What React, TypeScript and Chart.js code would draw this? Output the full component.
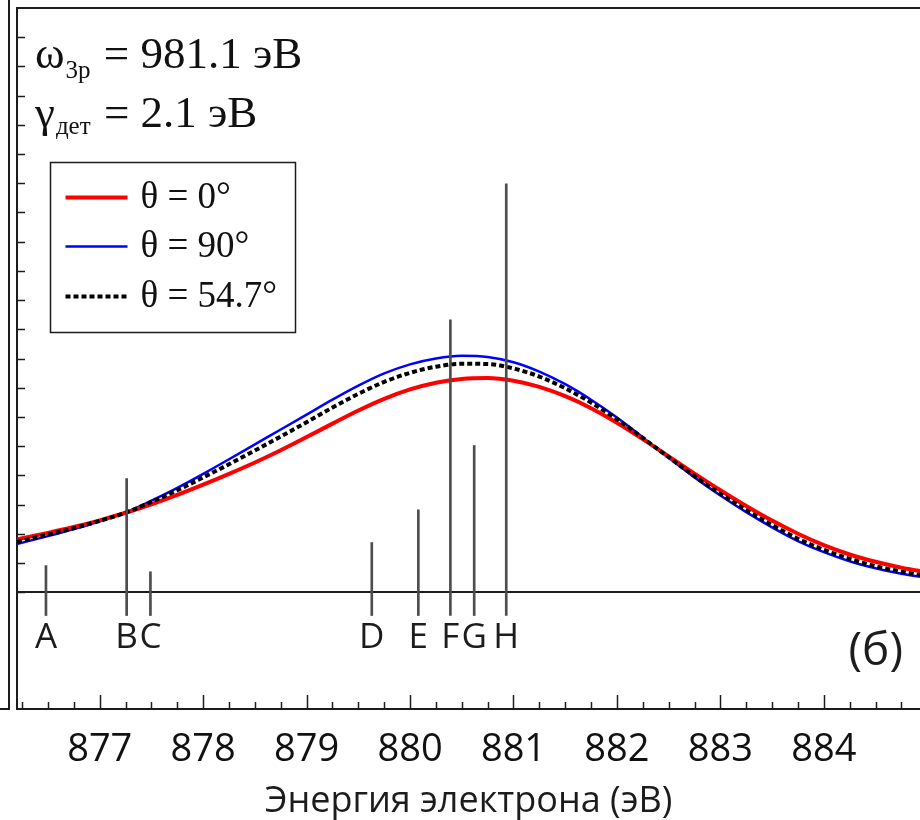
import React, { useEffect, useRef } from "react";
import { Chart, registerables } from "chart.js";

Chart.register(...registerables);

// Electron energy grid (эВ)
const energies = [
  876.2, 876.5, 876.75, 877, 877.25, 877.5, 877.75, 878, 878.25, 878.5, 878.75, 879,
  879.25, 879.5, 879.75, 880, 880.25, 880.5, 880.75, 881, 881.25, 881.5, 881.75, 882,
  882.25, 882.5, 882.75, 883, 883.25, 883.5, 883.75, 884, 884.25, 884.5, 884.75, 885,
];

// Broadened spectra for three emission angles
const intensityTheta0 = [
  0.181, 0.203, 0.223, 0.246, 0.272, 0.301, 0.333, 0.368, 0.405, 0.444, 0.486, 0.531,
  0.577, 0.622, 0.662, 0.694, 0.717, 0.73, 0.733, 0.724, 0.703, 0.671, 0.63, 0.58,
  0.524, 0.465, 0.406, 0.349, 0.295, 0.245, 0.2, 0.161, 0.129, 0.104, 0.084, 0.068,
];
const intensityTheta90 = [
  0.165, 0.192, 0.216, 0.243, 0.273, 0.313, 0.357, 0.405, 0.455, 0.506, 0.557, 0.608,
  0.659, 0.707, 0.749, 0.78, 0.8, 0.809, 0.805, 0.787, 0.755, 0.712, 0.659, 0.598,
  0.53, 0.46, 0.393, 0.331, 0.274, 0.222, 0.175, 0.137, 0.106, 0.082, 0.063, 0.049,
];
const intensityTheta547 = [
  0.172, 0.197, 0.219, 0.244, 0.272, 0.309, 0.349, 0.393, 0.438, 0.485, 0.533, 0.582,
  0.632, 0.679, 0.72, 0.751, 0.772, 0.782, 0.781, 0.766, 0.738, 0.698, 0.649, 0.592,
  0.528, 0.462, 0.397, 0.337, 0.281, 0.23, 0.183, 0.145, 0.114, 0.089, 0.07, 0.055,
];

const seriesLabels = ["θ = 0°", "θ = 90°", "θ = 54.7°"];

// Individual transitions (stick spectrum)
const lineNames = ["A", "B", "C", "D", "E", "F", "G", "H"];
const linePositions = [876.48, 877.26, 877.49, 879.63, 880.08, 880.39, 880.62, 880.93];
const lineHeights = [0.091, 0.389, 0.07, 0.17, 0.282, 0.932, 0.502, 1.398];
const LINE_FOOT = -0.08;

const X_MIN = 876.2;
const X_MAX = 884.93;
const Y_MIN = -0.4;
const Y_MAX = 2.0;

const SANS = "'Open Sans', 'Noto Sans', sans-serif";
const SERIF = "'Liberation Serif', 'Times New Roman', serif";
const INK = "#1c1c1c";

const toPoints = (values: number[]) => energies.map((x, i) => ({ x, y: values[i] }));

function drawSubscripted(
  ctx: CanvasRenderingContext2D,
  x: number,
  y: number,
  head: string,
  sub: string,
  tail: string,
  size: number,
  subSize: number,
  subDrop: number
) {
  ctx.font = `${size}px ${SERIF}`;
  ctx.fillText(head, x, y);
  x += ctx.measureText(head).width + 1;
  ctx.font = `${subSize}px ${SERIF}`;
  ctx.fillText(sub, x, y + subDrop);
  x += ctx.measureText(sub).width + 2;
  ctx.font = `${size}px ${SERIF}`;
  ctx.fillText(tail, x, y);
}

const decorPlugin = {
  id: "decor",
  afterDraw(chart: any) {
    const { ctx, chartArea: a, scales } = chart;
    const xs = scales.x;
    const ys = scales.y;
    ctx.save();

    // top edge of the frame
    ctx.strokeStyle = INK;
    ctx.lineWidth = 2;
    ctx.beginPath();
    ctx.moveTo(a.left - 1, a.top);
    ctx.lineTo(a.right, a.top);
    ctx.stroke();

    // inward tick marks
    ctx.lineWidth = 1.5;
    xs.ticks.forEach((t: any) => {
      const px = Math.round(xs.getPixelForValue(t.value)) + 0.5;
      const major = Math.abs(t.value - Math.round(t.value)) < 1e-6;
      const len = major ? 14 : 7;
      ctx.beginPath();
      ctx.moveTo(px, a.bottom);
      ctx.lineTo(px, a.bottom - len);
      ctx.stroke();
    });
    ys.ticks.forEach((t: any) => {
      if (t.value < -1e-9 || t.value > Y_MAX - 1e-6) return;
      const py = Math.round(ys.getPixelForValue(t.value)) + 0.5;
      ctx.beginPath();
      ctx.moveTo(a.left, py);
      ctx.lineTo(a.left + 8, py);
      ctx.stroke();
    });

    // transition names under the sticks
    ctx.fillStyle = INK;
    ctx.font = `35px ${SANS}`;
    ctx.textAlign = "center";
    ctx.textBaseline = "middle";
    const labelY = ys.getPixelForValue(LINE_FOOT) + 22;
    lineNames.forEach((name, i) => {
      ctx.fillText(name, xs.getPixelForValue(linePositions[i]), labelY);
    });

    // panel tag
    ctx.font = `46px ${SANS}`;
    ctx.textAlign = "right";
    ctx.fillText("(б)", a.right - 17, a.bottom - 57);

    // parameters
    ctx.textAlign = "left";
    ctx.textBaseline = "alphabetic";
    ctx.fillStyle = "#111";
    drawSubscripted(ctx, a.left + 18, a.top + 60, "ω", "3p", " = 981.1 эВ", 45, 25, 10);
    drawSubscripted(ctx, a.left + 18, a.top + 119, "γ", "дет", " = 2.1 эВ", 45, 25, 7);

    // legend
    const bx = a.left + 33.5;
    const by = a.top + 154.5;
    const bw = 245;
    const bh = 170;
    ctx.fillStyle = "#ffffff";
    ctx.fillRect(bx, by, bw, bh);
    ctx.strokeStyle = INK;
    ctx.lineWidth = 1.5;
    ctx.strokeRect(bx, by, bw, bh);
    const rows = [35, 84, 134];
    chart.data.datasets.slice(0, 3).forEach((ds: any, i: number) => {
      const y = by + rows[i];
      ctx.save();
      ctx.strokeStyle = ds.borderColor;
      ctx.lineWidth = ds.borderWidth;
      ctx.setLineDash(ds.borderDash || []);
      ctx.beginPath();
      ctx.moveTo(bx + 15, y);
      ctx.lineTo(bx + 77, y);
      ctx.stroke();
      ctx.restore();
      ctx.fillStyle = "#111";
      ctx.font = `37px ${SERIF}`;
      ctx.textBaseline = "middle";
      ctx.fillText(ds.label, bx + 90, y + 1);
    });

    ctx.restore();
  },
};

export default function App() {
  const canvasRef = useRef<HTMLCanvasElement | null>(null);

  useEffect(() => {
    const canvas = canvasRef.current;
    if (!canvas) return;
    const curve = {
      pointRadius: 0,
      cubicInterpolationMode: "monotone" as const,
    };
    const chart = new Chart(canvas, {
      type: "line",
      data: {
        datasets: [
          {
            ...curve,
            label: seriesLabels[0],
            data: toPoints(intensityTheta0),
            borderColor: "#ff0000",
            borderWidth: 4,
            order: 2,
          },
          {
            ...curve,
            label: seriesLabels[1],
            data: toPoints(intensityTheta90),
            borderColor: "#0000ff",
            borderWidth: 2.5,
            order: 3,
          },
          {
            ...curve,
            label: seriesLabels[2],
            data: toPoints(intensityTheta547),
            borderColor: "#000000",
            borderWidth: 4,
            borderDash: [5, 3],
            order: 1,
          },
          {
            type: "bar",
            label: "transitions",
            data: linePositions.map((x, i) => ({ x, y: [LINE_FOOT, lineHeights[i]] })) as any,
            backgroundColor: "#4d4d4d",
            barThickness: 2,
            grouped: false,
            order: 0,
          } as any,
        ],
      },
      options: {
        animation: false,
        responsive: false,
        layout: { padding: { left: 0, right: 0, top: 8, bottom: 0 } },
        plugins: {
          legend: { display: false },
          tooltip: { enabled: false },
        },
        scales: {
          x: {
            type: "linear",
            min: X_MIN,
            max: X_MAX,
            offset: false,
            grid: { drawOnChartArea: false, drawTicks: false, offset: false },
            border: { display: true, color: INK, width: 2 },
            ticks: {
              stepSize: 0.25,
              includeBounds: false,
              autoSkip: false,
              maxRotation: 0,
              padding: 18,
              color: "#111",
              font: { family: SANS, size: 38 },
              callback: (v: any) =>
                Math.abs(v - Math.round(v)) < 1e-6 ? String(Math.round(v)) : "",
            },
            title: {
              display: true,
              text: "Энергия электрона (эВ)",
              color: INK,
              font: { family: SANS, size: 36 },
              padding: { top: 0, bottom: -3 },
            },
            afterFit: (scale: any) => {
              scale.height = 111;
            },
          },
          y: {
            type: "linear",
            min: Y_MIN,
            max: Y_MAX,
            grid: {
              drawTicks: false,
              lineWidth: 2,
              color: (c: any) =>
                c.tick && Math.abs(c.tick.value) < 1e-9 ? INK : "rgba(0,0,0,0)",
            },
            border: { display: true, color: INK, width: 2 },
            ticks: { display: false, stepSize: 0.1 },
            afterFit: (scale: any) => {
              scale.width = 17;
            },
          },
        },
      },
      plugins: [decorPlugin],
    });
    return () => chart.destroy();
  }, []);

  return (
    <div
      style={{
        position: "absolute",
        left: 0,
        top: 0,
        width: 920,
        height: 820,
        background: "#ffffff",
        overflow: "hidden",
      }}
    >
      <div
        style={{
          position: "absolute",
          left: 0,
          top: 0,
          width: 8,
          height: 708,
          borderRight: `2px solid ${INK}`,
          borderBottom: `2px solid ${INK}`,
        }}
      />
      <canvas
        ref={canvasRef}
        width={920}
        height={820}
        style={{ position: "absolute", left: 0, top: 0 }}
      />
    </div>
  );
}
